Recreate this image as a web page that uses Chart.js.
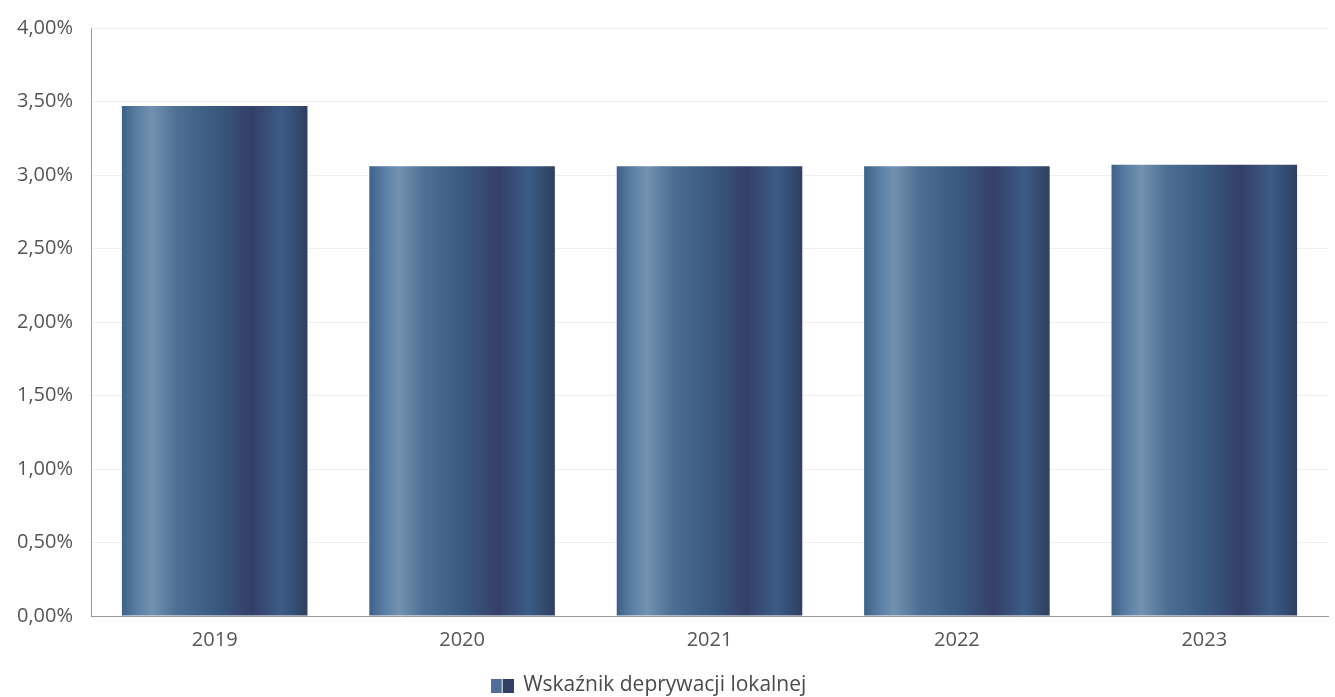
<!DOCTYPE html>
<html>
<head>
<meta charset="utf-8">
<script src="https://cdn.jsdelivr.net/npm/chart.js@4/dist/chart.umd.min.js"></script>
<style>
  html, body { margin: 0; padding: 0; background: #fff; }
  #wrap { width: 1335px; height: 697px; }
</style>
</head>
<body>
<div id="wrap"><canvas id="chart"></canvas></div>
<script>
'use strict';
// values, in percent
let years = ['2019', '2020', '2021', '2022', '2023'];
let values = [3.47, 3.06, 3.06, 3.06, 3.07];
let seriesName = 'Wskaźnik deprywacji lokalnej';
let yMax = 4;
let yStep = 0.5;

// stops of the shiny cylinder look, left to right
let stops = [
  [0, '#3e6089'], [0.08, '#5a7ea3'], [0.16, '#7391b0'], [0.3, '#4d6f93'],
  [0.5, '#3a5a80'], [0.7, '#343f68'], [0.86, '#3b5b86'], [1, '#2f3f60']
];

function barGradient(context) {
  let chart = context.chart;
  let xScale = chart.scales.x;
  if (!chart.chartArea || !xScale) {
    return '#3a5a80';
  }
  let cx = xScale.getPixelForValue(context.dataIndex);
  let w = (xScale.width / years.length) * 0.75;
  let g = chart.ctx.createLinearGradient(cx - w / 2, 0, cx + w / 2, 0);
  stops.forEach(s => g.addColorStop(s[0], s[1]));
  return g;
}

// little two-stripe legend marker
let marker = document.createElement('canvas');
marker.width = 23;
marker.height = 14;
let mctx = marker.getContext('2d');
mctx.fillStyle = '#4f6f98';
mctx.fillRect(0, 0, 11, 14);
mctx.fillStyle = '#2f3f66';
mctx.fillRect(12, 0, 11, 14);

// the legend sits a bit left of centre and lower in the original
let legendNudge = {
  id: 'legendNudge',
  afterLayout(chart) {
    chart.legend.left -= 15;
    chart.legend.right -= 15;
    chart.legend.top += 9;
    chart.legend.bottom += 9;
  }
};

Chart.defaults.font.family = '"Open Sans", "Noto Sans", sans-serif';
Chart.defaults.color = '#555';

new Chart(document.getElementById('chart'), {
  type: 'bar',
  data: {
    labels: years,
    datasets: [{
      label: seriesName,
      data: values,
      backgroundColor: barGradient,
      borderWidth: 0,
      barPercentage: 0.75,
      categoryPercentage: 1
    }]
  },
  plugins: [legendNudge],
  options: {
    responsive: true,
    maintainAspectRatio: false,
    animation: false,
    layout: { padding: { top: 4, right: 7, left: 0, bottom: 0 } },
    plugins: {
      tooltip: { enabled: false },
      legend: {
        position: 'bottom',
        labels: {
          usePointStyle: true,
          pointStyle: marker,
          font: { size: 21 },
          color: '#4a4a4a',
          padding: 10
        }
      }
    },
    scales: {
      x: {
        grid: { display: false },
        border: { color: '#9a9a9a', width: 1 },
        ticks: { font: { size: 20 }, padding: 4, color: '#555' }
      },
      y: {
        min: 0,
        max: yMax,
        afterFit: scale => { scale.width = 91; },
        grid: { color: '#efefef', drawTicks: false },
        border: { color: '#9a9a9a', width: 1 },
        ticks: {
          stepSize: yStep,
          padding: 18,
          font: { size: 20, lineHeight: 1 },
          color: '#555',
          callback: v => v.toFixed(2).replace('.', ',') + '%'
        }
      }
    }
  }
});
</script>
</body>
</html>
